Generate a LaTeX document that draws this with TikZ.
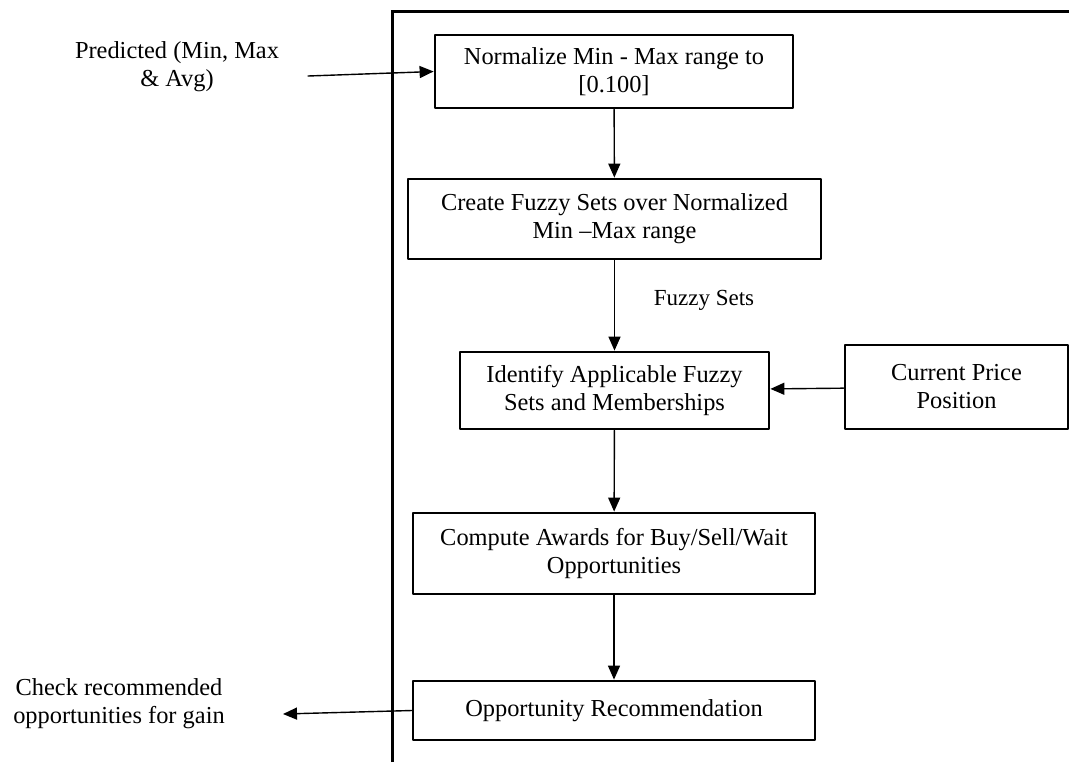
\documentclass[tikz,border=0pt]{standalone}
\usepackage{fontspec}
\setmainfont{Liberation Serif}
\usetikzlibrary{arrows.meta}
\usetikzlibrary{positioning}

\tikzset{
  stagebox/.style={draw=black, line width=1.4pt, align=center, inner sep=0pt, font=\fontsize{12.2}{14}\selectfont},
  sidetext/.style={align=center, inner sep=0pt, font=\fontsize{12.2}{14}\selectfont},
  flowarrow/.style={-{Triangle[length=7pt,width=6pt]}, line width=0.7pt}
}

\begin{document}
\begin{tikzpicture}[line cap=round,line join=round,x=0.5pt,y=-0.5pt]
\useasboundingbox (0,0) rectangle (1069,762);
% outer frame (runs off the page)
\draw[line width=1.4pt, line join=miter, line cap=butt] (392.7,762) -- (392.7,11.7) -- (1069,11.7);
% stages
\node[stagebox, minimum width=179pt, minimum height=36.5pt] (norm) at (614,71.5) {Normalize Min - Max range to\\{[0.100]}};
\node[stagebox, minimum width=206.5pt, minimum height=40pt] (fuzzy) at (614.5,219) {Create Fuzzy Sets over Normalized\\Min --Max range};
\node[stagebox, minimum width=154.5pt, minimum height=38.5pt] (ident) at (614.5,390.5) {Identify Applicable Fuzzy\\Sets and Memberships};
\node[stagebox, minimum width=111.5pt, minimum height=42pt] (price) at (956.5,387) {Current Price\\Position};
\node[stagebox, minimum width=201pt, minimum height=40.5pt] (award) at (614,553.5) {Compute Awards for Buy/Sell/Wait\\Opportunities};
\node[stagebox, minimum width=201pt, minimum height=29.5pt] (recom) at (614,710.5) {Opportunity Recommendation};
% inputs and outputs
\node[sidetext] (pred) at (177,67) {Predicted (Min, Max\\\& Avg)};
\node[sidetext] (check) at (119,704) {Check recommended\\opportunities for gain};
\node[sidetext, font=\fontsize{11.5}{13}\selectfont] (fset) at (704,300) {Fuzzy Sets};
\coordinate (pin) at (308,76);
\coordinate (pout) at (283,714);
% connectors
\draw[flowarrow] (pin) -- (norm.west);
\draw[flowarrow] (norm) -- (fuzzy);
\draw[flowarrow] (fuzzy) -- (ident);
\draw[flowarrow] (price) -- (ident);
\draw[flowarrow] (ident) -- (award);
\draw[flowarrow] (award) -- (recom);
\draw[flowarrow] (recom.west) -- (pout);
\end{tikzpicture}
\end{document}
